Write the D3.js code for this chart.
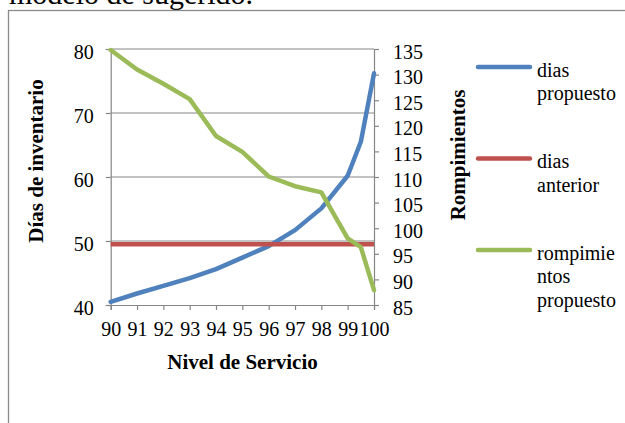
<!DOCTYPE html>
<html><head><meta charset="utf-8">
<script src="https://cdn.jsdelivr.net/npm/d3@7"></script>
<style>
html,body{margin:0;padding:0;background:#fff;}
svg{display:block;}
text{font-family:"Liberation Serif","Times New Roman",serif;fill:#000;}
</style></head>
<body>
<svg id="c" width="625" height="423"></svg>
<script>
// Data
const nivel = [90, 91, 92, 93, 94, 95, 96, 97, 98, 99, 99.5, 100];
const diasPropuesto = [40.5, 41.8, 43.0, 44.2, 45.6, 47.4, 49.2, 51.7, 55.1, 60.2, 65.5, 76.2];
const diasAnteriorX = [90, 100];
const diasAnterior = [49.5, 49.5];
const rompimientosPropuesto = [134.8, 131.0, 128.2, 125.2, 118.0, 114.9, 110.1, 108.2, 107.0, 98.0, 96.3, 87.9];
const xTicks = [90, 91, 92, 93, 94, 95, 96, 97, 98, 99, 100];
const yLeftTicks = [40, 50, 60, 70, 80];
const yRightTicks = [85, 90, 95, 100, 105, 110, 115, 120, 125, 130, 135];
const legendNames = [["dias", "propuesto"], ["dias", "anterior"], ["rompimie", "ntos", "propuesto"]];
const colors = ["#4F81BD", "#C0504D", "#9BBB59"];

const svg = d3.select("#c");
const L = 110.7, R = 374, T = 49, B = 305;
const x = d3.scaleLinear().domain([90, 100]).range([L, R]);
const yL = d3.scaleLinear().domain([40, 80]).range([B, T]);
const yR = d3.scaleLinear().domain([85, 135]).range([B, T]);
const gridCol = "#868686";

// caption text above chart
svg.append("text").attr("x", 9).attr("y", 4).attr("font-size", 30).text("modelo de sugerido.");

// outer chart border
svg.append("rect").attr("x", 8.5).attr("y", 10.5).attr("width", 700).attr("height", 500)
  .attr("fill", "none").attr("stroke", "#8a8a8a").attr("stroke-width", 1.3);

// gridlines
svg.append("g").selectAll("line").data(yLeftTicks.slice(1)).join("line")
  .attr("x1", L).attr("x2", R).attr("y1", d => yL(d)).attr("y2", d => yL(d))
  .attr("stroke", gridCol).attr("stroke-width", 1);

// axes
function styleAxis(g) {
  g.attr("font-family", null);
  g.select(".domain").attr("stroke", gridCol).attr("stroke-width", 1.2);
  g.selectAll(".tick line").attr("stroke", gridCol).attr("stroke-width", 1.2);
  g.selectAll("text").attr("font-family", '"Liberation Serif","Times New Roman",serif')
    .attr("font-size", 20).attr("fill", "#000");
}
const gL = svg.append("g").attr("transform", `translate(${L},0)`)
  .call(d3.axisLeft(yL).tickValues(yLeftTicks).tickSizeOuter(0).tickSize(5).tickPadding(12));
styleAxis(gL);
gL.selectAll("text").attr("dy", "0.45em");

const gR = svg.append("g").attr("transform", `translate(${R},0)`)
  .call(d3.axisRight(yR).tickValues(yRightTicks).tickSizeOuter(0).tickSize(5).tickPadding(14));
styleAxis(gR);
gR.selectAll("text").attr("dy", "0.45em");

const gB = svg.append("g").attr("transform", `translate(0,${B})`)
  .call(d3.axisBottom(x).tickValues(xTicks).tickSizeOuter(0).tickSize(5).tickPadding(12).tickFormat(d3.format("d")));
styleAxis(gB);

// axis titles
svg.append("text").attr("transform", "translate(43,161) rotate(-90)")
  .attr("text-anchor", "middle").attr("font-size", 21).attr("font-weight", "bold").text("Días de inventario");
svg.append("text").attr("transform", "translate(465,155) rotate(-90)")
  .attr("text-anchor", "middle").attr("font-size", 21).attr("font-weight", "bold").text("Rompimientos");
svg.append("text").attr("x", 242.5).attr("y", 369)
  .attr("text-anchor", "middle").attr("font-size", 21).attr("font-weight", "bold").text("Nivel de Servicio");

// lines
const lineL = d3.line().x(d => x(d[0])).y(d => yL(d[1]));
const lineR = d3.line().x(d => x(d[0])).y(d => yR(d[1]));
svg.append("path").datum(nivel.map((n, i) => [n, diasPropuesto[i]])).attr("d", lineL)
  .attr("fill", "none").attr("stroke", colors[0]).attr("stroke-width", 4.5)
  .attr("stroke-linejoin", "round").attr("stroke-linecap", "round");
svg.append("path").datum(diasAnteriorX.map((n, i) => [n, diasAnterior[i]])).attr("d", lineL)
  .attr("fill", "none").attr("stroke", colors[1]).attr("stroke-width", 4.5);
svg.append("path").datum(nivel.map((n, i) => [n, rompimientosPropuesto[i]])).attr("d", lineR)
  .attr("fill", "none").attr("stroke", colors[2]).attr("stroke-width", 4.5)
  .attr("stroke-linejoin", "round").attr("stroke-linecap", "round");

// legend
const legY = [67, 158.5, 250];
legendNames.forEach((lines, i) => {
  svg.append("line").attr("x1", 478).attr("x2", 530).attr("y1", legY[i]).attr("y2", legY[i])
    .attr("stroke", colors[i]).attr("stroke-width", 4.5).attr("stroke-linecap", "round");
  lines.forEach((t, j) => {
    svg.append("text").attr("x", 537).attr("y", legY[i] + 9.5 + j * 23.5)
      .attr("font-size", 20).text(t);
  });
});
</script>
</body></html>
